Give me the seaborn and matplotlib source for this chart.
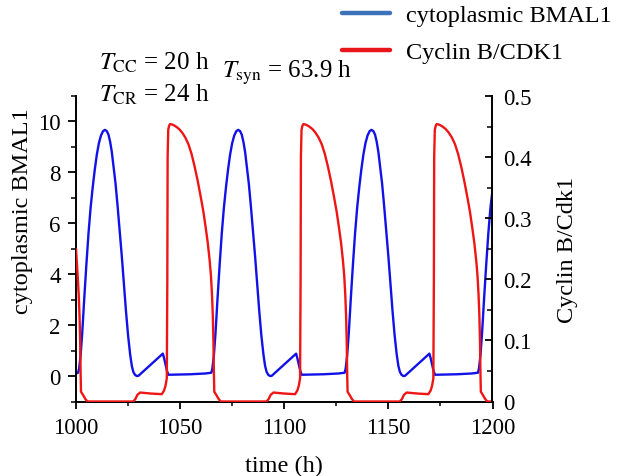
import matplotlib
matplotlib.use("Agg")
import matplotlib.pyplot as plt
from matplotlib.lines import Line2D
from matplotlib.ticker import MultipleLocator, FuncFormatter
import seaborn as sns
import pandas as pd

# ---- data ----
bmal_time = [
    1000.0, 1001.0, 1001.5, 1002.2, 1003.0, 1004.0, 1005.0, 1006.0, 1007.0, 1008.0,
    1009.0, 1010.0, 1011.0, 1012.0, 1013.0, 1013.9, 1014.8, 1015.6, 1016.4, 1017.2,
    1018.0, 1019.0, 1020.0, 1021.0, 1022.0, 1023.0, 1024.0, 1025.0, 1026.0, 1026.8,
    1027.5, 1028.3, 1029.2, 1030.0, 1041.7, 1042.3, 1043.0, 1043.7, 1044.4, 1055.0,
    1062.0, 1065.0,
    1065.5, 1066.2, 1067.0, 1068.0, 1069.0, 1070.0, 1071.0, 1072.0, 1073.0, 1074.0,
    1075.0, 1076.0, 1077.0, 1077.9, 1078.8, 1079.6, 1080.4, 1081.2, 1082.0, 1083.0,
    1084.0, 1085.0, 1086.0, 1087.0, 1088.0, 1089.0, 1090.0, 1090.8, 1091.5, 1092.3,
    1093.2, 1094.0, 1105.7, 1106.3, 1107.0, 1107.7, 1108.4, 1119.0, 1126.0, 1129.0,
    1129.5, 1130.2, 1131.0, 1132.0, 1133.0, 1134.0, 1135.0, 1136.0, 1137.0, 1138.0,
    1139.0, 1140.0, 1141.0, 1141.9, 1142.8, 1143.6, 1144.4, 1145.2, 1146.0, 1147.0,
    1148.0, 1149.0, 1150.0, 1151.0, 1152.0, 1153.0, 1154.0, 1154.8, 1155.5, 1156.3,
    1157.2, 1158.0, 1169.7, 1170.3, 1171.0, 1171.7, 1172.4, 1183.0, 1190.0, 1193.0,
    1193.5, 1194.2, 1195.0, 1196.0, 1197.0, 1198.0, 1199.0, 1200.0,
]
bmal_value = [
    0.10, 0.13, 0.30, 0.80, 1.70, 3.10, 4.40, 5.60, 6.60, 7.40,
    8.10, 8.70, 9.15, 9.45, 9.62, 9.67, 9.62, 9.48, 9.20, 8.80,
    8.25, 7.55, 6.65, 5.70, 4.70, 3.60, 2.55, 1.60, 0.85, 0.40,
    0.17, 0.05, 0.00, 0.01, 0.88, 0.70, 0.45, 0.20, 0.05, 0.07,
    0.10, 0.13,
    0.30, 0.80, 1.70, 3.10, 4.40, 5.60, 6.60, 7.40, 8.10, 8.70,
    9.15, 9.45, 9.62, 9.67, 9.62, 9.48, 9.20, 8.80, 8.25, 7.55,
    6.65, 5.70, 4.70, 3.60, 2.55, 1.60, 0.85, 0.40, 0.17, 0.05,
    0.00, 0.01, 0.88, 0.70, 0.45, 0.20, 0.05, 0.07, 0.10, 0.13,
    0.30, 0.80, 1.70, 3.10, 4.40, 5.60, 6.60, 7.40, 8.10, 8.70,
    9.15, 9.45, 9.62, 9.67, 9.62, 9.48, 9.20, 8.80, 8.25, 7.55,
    6.65, 5.70, 4.70, 3.60, 2.55, 1.60, 0.85, 0.40, 0.17, 0.05,
    0.00, 0.01, 0.88, 0.70, 0.45, 0.20, 0.05, 0.07, 0.10, 0.13,
    0.30, 0.80, 1.70, 3.10, 4.40, 5.60, 6.60, 7.30,
]

cdk_time = [
    1000.0, 1000.8, 1001.3, 1001.7, 1002.0, 1002.2, 1002.4, 1003.5, 1004.5, 1005.5,
    1027.5, 1028.5, 1029.5, 1030.8, 1036.0, 1041.2, 1042.3, 1043.0, 1043.6, 1043.85,
    1044.0, 1044.3, 1044.8, 1045.2, 1046.5, 1048.0, 1049.5, 1051.0, 1052.5, 1054.0,
    1055.5, 1057.0, 1058.5, 1060.0, 1061.2, 1062.3, 1063.3, 1064.2, 1064.8, 1065.3,
    1065.7, 1066.0, 1066.2, 1066.4, 1067.5, 1068.5, 1069.5,
    1091.5, 1092.5, 1093.5, 1094.8, 1100.0, 1105.2, 1106.3, 1107.0, 1107.6, 1107.85,
    1108.0, 1108.3, 1108.8, 1109.2, 1110.5, 1112.0, 1113.5, 1115.0, 1116.5, 1118.0,
    1119.5, 1121.0, 1122.5, 1124.0, 1125.2, 1126.3, 1127.3, 1128.2, 1128.8, 1129.3,
    1129.7, 1130.0, 1130.2, 1130.4, 1131.5, 1132.5, 1133.5,
    1155.5, 1156.5, 1157.5, 1158.8, 1164.0, 1169.2, 1170.3, 1171.0, 1171.6, 1171.85,
    1172.0, 1172.3, 1172.8, 1173.2, 1174.5, 1176.0, 1177.5, 1179.0, 1180.5, 1182.0,
    1183.5, 1185.0, 1186.5, 1188.0, 1189.2, 1190.3, 1191.3, 1192.2, 1192.8, 1193.3,
    1193.7, 1194.0, 1194.2, 1194.4, 1195.5, 1196.5, 1197.5, 1200.0,
]
cdk_value = [
    0.250, 0.206, 0.175, 0.140, 0.098, 0.050, 0.016, 0.010, 0.004, 0.000,
    0.000, 0.004, 0.011, 0.0147, 0.013, 0.012, 0.018, 0.026, 0.038, 0.200,
    0.400, 0.445, 0.452, 0.454, 0.453, 0.450, 0.446, 0.440, 0.432, 0.421,
    0.405, 0.384, 0.360, 0.333, 0.310, 0.284, 0.259, 0.230, 0.206, 0.175,
    0.140, 0.098, 0.050, 0.016, 0.010, 0.004, 0.000,
    0.000, 0.004, 0.011, 0.0147, 0.013, 0.012, 0.018, 0.026, 0.038, 0.200,
    0.400, 0.445, 0.452, 0.454, 0.453, 0.450, 0.446, 0.440, 0.432, 0.421,
    0.405, 0.384, 0.360, 0.333, 0.310, 0.284, 0.259, 0.230, 0.206, 0.175,
    0.140, 0.098, 0.050, 0.016, 0.010, 0.004, 0.000,
    0.000, 0.004, 0.011, 0.0147, 0.013, 0.012, 0.018, 0.026, 0.038, 0.200,
    0.400, 0.445, 0.452, 0.454, 0.453, 0.450, 0.446, 0.440, 0.432, 0.421,
    0.405, 0.384, 0.360, 0.333, 0.310, 0.284, 0.259, 0.230, 0.206, 0.175,
    0.140, 0.098, 0.050, 0.016, 0.010, 0.004, 0.000, 0.000,
]

legend_labels = ["cytoplasmic BMAL1", "Cyclin B/CDK1"]
x_ticks = [1000, 1050, 1100, 1150, 1200]
left_ticks = [0, 2, 4, 6, 8, 10]
right_ticks = [0, 0.1, 0.2, 0.3, 0.4, 0.5]

# ---- style ----
sns.set_theme(style="ticks")
plt.rcParams["font.family"] = ["Liberation Serif", "DejaVu Serif"]
plt.rcParams["mathtext.fontset"] = "stix"
for key in ("text.color", "axes.labelcolor", "xtick.color", "ytick.color",
            "axes.edgecolor"):
    plt.rcParams[key] = "black"

W, H = 618, 477
fig = plt.figure(figsize=(W / 100, H / 100), dpi=100)
ax = fig.add_axes([76 / W, 1 - 402.5 / H, (492.5 - 76) / W, (402.5 - 97) / H])
ax2 = ax.twinx()

df_b = pd.DataFrame({"time": bmal_time, "value": bmal_value})
df_c = pd.DataFrame({"time": cdk_time, "value": cdk_value})

sns.lineplot(data=df_b, x="time", y="value", ax=ax, color="#1212e8",
             linewidth=1.7, estimator=None, sort=False, legend=False,
             solid_joinstyle="round")
sns.lineplot(data=df_c, x="time", y="value", ax=ax2, color="#f01515",
             linewidth=1.7, estimator=None, sort=False, legend=False,
             solid_joinstyle="round")

ax.set_xlim(1000, 1200)
ax.set_ylim(-1, 11)
ax2.set_ylim(0, 0.5)

ax.set_xticks(x_ticks)
ax.set_yticks(left_ticks)
ax2.set_yticks(right_ticks)
ax.xaxis.set_minor_locator(MultipleLocator(25))
ax.yaxis.set_minor_locator(MultipleLocator(1))
ax2.yaxis.set_minor_locator(MultipleLocator(0.05))
ax2.yaxis.set_major_formatter(FuncFormatter(lambda v, p: "0" if abs(v) < 1e-9 else f"{v:.1f}"))

for a in (ax, ax2):
    for s in a.spines.values():
        s.set_linewidth(1.4)
        s.set_color("black")
    a.spines["top"].set_visible(False)
    a.grid(False)
ax.spines["right"].set_visible(False)
ax2.spines["left"].set_visible(False)
ax2.spines["bottom"].set_visible(False)

tick_fs = 16.5
ax.tick_params(axis="x", which="major", direction="out", length=5, width=1.3,
               labelsize=tick_fs, pad=6, colors="black")
ax.tick_params(axis="x", which="minor", direction="out", length=3, width=1.1, colors="black")
ax.tick_params(axis="y", which="major", direction="out", length=6, width=1.3,
               labelsize=tick_fs, pad=5, colors="black")
ax.tick_params(axis="y", which="minor", direction="out", length=3.5, width=1.1, colors="black")
ax2.tick_params(axis="y", which="major", direction="in", length=5, width=1.3,
                labelsize=tick_fs, pad=7.5, colors="black")
ax2.tick_params(axis="y", which="minor", direction="in", length=3.5, width=1.1, colors="black")

lab_fs = 17.5
ax.set_xlabel("time (h)", fontsize=lab_fs, color="black")
ax.set_ylabel("cytoplasmic BMAL1", fontsize=lab_fs, color="black")
ax2.set_ylabel("Cyclin B/Cdk1", fontsize=lab_fs, color="black")
ax.xaxis.set_label_coords(0.5, -0.175)
ax.yaxis.set_label_coords(-0.104, 0.626)
ax2.yaxis.set_label_coords(1.154, 0.5)

# legend
handles = [Line2D([], [], color="#3b72b9", linewidth=3.2),
           Line2D([], [], color="#e8161b", linewidth=3.2)]
leg = fig.legend(handles, legend_labels, loc="upper left",
                 bbox_to_anchor=(340 / W, 1 - 3 / H), frameon=False, fontsize=lab_fs,
                 handlelength=1.95, handletextpad=0.65, labelspacing=0.6,
                 borderpad=0.1, borderaxespad=0.0)
for t in leg.get_texts():
    t.set_color("black")

# annotations
ann_fs = 18
fig.text(99 / W, 1 - 70 / H, r"$T_{\mathrm{CC}}$ = 20 h", fontsize=ann_fs,
         va="baseline", color="black")
fig.text(99 / W, 1 - 102 / H, r"$T_{\mathrm{CR}}$ = 24 h", fontsize=ann_fs,
         va="baseline", color="black")
fig.text(222 / W, 1 - 78 / H, r"$T_{\mathrm{syn}}$ = 63.9 h", fontsize=ann_fs,
         va="baseline", color="black")

fig.savefig("out.png", dpi=100)
